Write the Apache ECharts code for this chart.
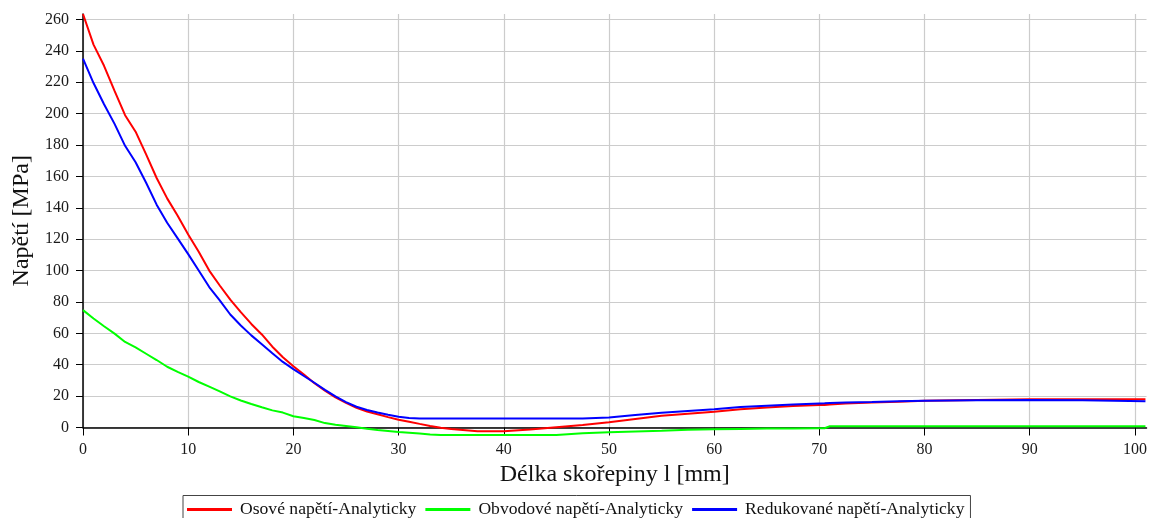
<!DOCTYPE html>
<html>
<head>
<meta charset="utf-8">
<script src="https://cdn.jsdelivr.net/npm/echarts@6/dist/echarts.min.js"></script>
<style>
html,body{margin:0;padding:0;background:#fff;}
#chart{width:1155px;height:518px;}
</style>
</head>
<body>
<div id="chart"></div>
<script>
// x positions [mm]
const xValues = [0,1,2,3,4,5,6,7,8,9,10,11,12,13,14,15,16,17,18,19,20,21,22,23,24,25,26,27,28,29,30,31,32,33,34,35,
  37.5,40,42.5,45,47.5,50,52.5,55,57.5,60,62.5,65,67.5,70,70.5,71,72.5,75,77.5,80,85,90,95,101];

const osove = [263.5,244,230.5,214.5,199,188.5,174,159,146,135,123,112,100,90.5,81.5,73.5,66,59.3,51.5,44.8,39,33.8,28.2,23.5,19.2,15.7,12.6,10.2,8.4,6.6,5.0,3.7,2.3,1.0,-0.2,-1.0,
  -2.4,-2.4,-1.3,0.2,1.6,3.3,5.4,7.5,8.8,10.1,11.6,12.8,13.7,14.3,14.4,14.6,15.3,15.9,16.4,17,17.6,18,18,18];

const obvodove = [74.8,69.5,64.5,59.8,54.5,51,47,43,38.7,35.5,32.4,29,26,23,19.8,17.2,15,12.9,10.9,9.5,7.2,6,4.8,2.8,1.8,1,0.1,-0.8,-1.6,-2.2,-2.9,-3.3,-3.9,-4.5,-4.8,-4.8,
  -4.8,-4.8,-4.8,-4.8,-3.6,-3.1,-2.6,-2.1,-1.4,-1.1,-0.9,-0.7,-0.6,-0.5,-0.5,0.8,0.8,0.8,0.8,0.8,0.8,0.8,0.8,0.8];

const redukovane = [235,219.5,206,193.5,179.5,169,156,142,130.5,120.5,110.5,100,89.5,81,72,65,58.7,53,47.3,41.8,37.2,32.8,28.5,24,19.8,16.2,13.2,11.2,9.5,8.1,6.9,6.0,5.8,5.8,5.8,5.8,
  5.8,5.8,5.8,5.8,5.8,6.4,8,9.4,10.5,11.6,13.1,13.9,14.7,15.3,15.4,15.6,16,16.3,16.7,17,17.3,17.5,17.4,16.7];

const seriesNames = ['Osové napětí-Analyticky','Obvodové napětí-Analyticky','Redukované napětí-Analyticky'];
const seriesColors = ['#ff0000','#00ff00','#0000ff'];
const xTicks = [0,10,20,30,40,50,60,70,80,90,100];
const yTicks = [0,20,40,60,80,100,120,140,160,180,200,220,240,260];

const FONT = 'Liberation Serif';
const pairs = ys => xValues.map((x,i)=>[x, ys[i]]);
const allData = [osove, obvodove, redukovane];

const chart = echarts.init(document.getElementById('chart'), null, {renderer:'canvas'});
chart.setOption({
  animation:false,
  backgroundColor:'#ffffff',
  grid:{left:83, right:8.5, top:14, bottom:90.5, containLabel:false},
  legend:{
    left:183, top:495.5,
    padding:[5,6,30,4],
    itemGap:9,
    itemWidth:45, itemHeight:3,
    icon:'rect',
    borderColor:'#444', borderWidth:1,
    backgroundColor:'#fff',
    textStyle:{fontFamily:FONT, fontSize:17.6, color:'#111', padding:[0,0,0,3]},
    data:seriesNames
  },
  xAxis:{
    type:'value', min:0, max:101.1, interval:10,
    name:'Délka skořepiny l [mm]', nameLocation:'middle', nameGap:35,
    nameTextStyle:{fontFamily:FONT, fontSize:24, color:'#111'},
    axisLine:{lineStyle:{color:'#000', width:1.5}},
    axisTick:{show:true, length:8, lineStyle:{color:'#000'}, customValues:xTicks},
    axisLabel:{fontFamily:FONT, fontSize:16, color:'#1a1a1a', margin:14, customValues:xTicks},
    splitLine:{show:true, lineStyle:{color:'#cccccc', width:1.2}}
  },
  yAxis:{
    type:'value', min:0, max:263.5, interval:20,
    name:'Napětí [MPa]', nameLocation:'middle', nameGap:45,
    nameTextStyle:{fontFamily:FONT, fontSize:24, color:'#111'},
    axisLine:{show:true, lineStyle:{color:'#000', width:1.5}},
    axisTick:{show:true, length:7, lineStyle:{color:'#000'}, customValues:yTicks},
    axisLabel:{fontFamily:FONT, fontSize:16, color:'#1a1a1a', margin:14, customValues:yTicks},
    splitLine:{show:true, lineStyle:{color:'#cccccc', width:1.2}}
  },
  series: seriesNames.map((n,i)=>({
    name:n, type:'line', data:pairs(allData[i]),
    showSymbol:false, symbol:'none', clip:false,
    lineStyle:{color:seriesColors[i], width:2},
    itemStyle:{color:seriesColors[i]},
    z: 3 + (i===1?0:(i===0?1:2))
  }))
});
</script>
</body>
</html>
